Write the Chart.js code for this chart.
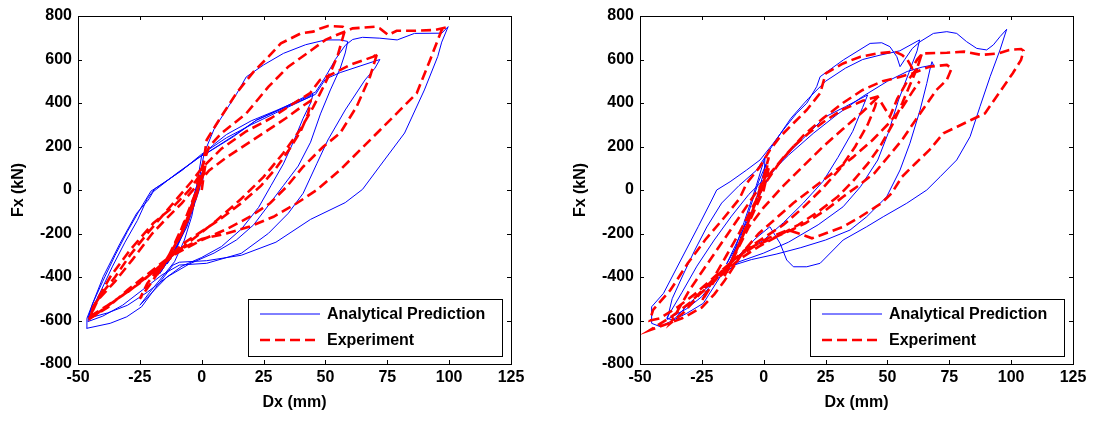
<!DOCTYPE html>
<html>
<head>
<meta charset="utf-8">
<script src="https://cdn.jsdelivr.net/npm/chart.js@4.4.1/dist/chart.umd.min.js"></script>
<style>
html, body { margin: 0; padding: 0; background: #fff; overflow: hidden; width: 1094px; height: 421px; }
canvas { position: absolute; top: 0; }
#leftPanel { left: 0; }
#rightPanel { left: 562px; }
</style>
</head>
<body>
<canvas id="leftPanel" width="550" height="421"></canvas>
<canvas id="rightPanel" width="532" height="421"></canvas>
<script>
// axis ticks
const dxTicks = [-50, -25, 0, 25, 50, 75, 100, 125];
const fxTicks = [-800, -600, -400, -200, 0, 200, 400, 600, 800];
const seriesNames = ["Analytical Prediction", "Experiment"];

// left panel, [Dx mm, Fx kN]
const leftAnalytical = [
  [0,0],[1,100],[-1,30],[-5,-120],[-10,-260],[-15,-350],[-17,-385],[-12,-300],[-6,-170],[-1,0],[0.8,100],[-2,20],[-8,-210],[-14,-340],
  [-11,-290],[-6,-160],[-2,20],[0,160],[5,210],[10,255],[20,318],[30,365],[40,415],[45,440],
  [44,400],[41,330],[37,220],[33,120],[28,20],[23,-80],[16,-180],[8,-260],[0,-310],[-8,-350],[-14,-400],[-20,-470],[-25,-530],
  [-21,-470],[-16,-400],[-11,-330],[-7,-230],[-4,-120],[-1,50],[1,170],[5,280],[10,370],[14,440],[18,520],[25,575],[33,628],[42,668],[50,690],[56,690],[59,683],
  [58,630],[56,560],[52,460],[48,350],[44,220],[39,110],[33,20],[27,-70],[21,-160],[14,-230],[5,-290],[-5,-340],[-14,-400],[-22,-470],[-30,-530],[-38,-565],[-46,-590],
  [-44,-520],[-40,-420],[-35,-300],[-30,-190],[-25,-90],[-20.5,-5],[-15,35],[-8,90],[0,165],[10,240],[20,300],[30,355],[40,408],[46,440],[50,510],[56,540],[64,570],[72,600],
  [70,560],[66,506],[58,368],[51,230],[46.6,123],[41,-15],[35,-107],[27,-199],[16,-291],[2,-337],[-9,-345],[-16,-390],[-24,-460],[-32,-530],[-40,-580],[-46,-605],
  [-45,-560],[-41,-470],[-36,-350],[-31,-240],[-26,-140],[-22,-40],[-19,5],[-10,75],[-1,150],[2,170],[13,250],[22,320],[32,372],[41,425],[46,450],[50,520],[54,600],[58,665],[61,692],[65,702],[72,698],[79,690],[86,720],[97,721],[99.6,751],
  [97,680],[95.4,614],[90,460],[82,262],[72,110],[65,3],[58,-58],[44,-135],[30,-240],[16,-300],[2,-325],[-9,-332],[-11.6,-345],[-18,-440],[-24.3,-537],[-30.3,-583],[-37,-613],[-46.5,-636],
  [-46.4,-590],[-44,-520],[-39.8,-398],[-33,-245],[-26.3,-107],[-21.6,-46],[-19.6,-8],[-10.1,77],[-0.7,153],[2,169],[12.8,245],[22.2,322],[30,362],[38,400],[44,430]
];
const leftExperiment = [
  [0,0],[1,80],[-1,20],[-6,-150],[-12,-280],[-16,-360],[-10,-230],[-2,0],[1.5,110],[0,60],[-8,-200],[-18,-390],[-14,-320],[-5,-100],[0,50],
  [3,90],[10,150],[18,210],[26,270],[34,330],[40,380],[44,410],
  [43,350],[40,270],[35,180],[30,100],[24,20],[16,-60],[8,-130],[0,-190],[-8,-250],[-16,-340],[-22,-430],[-25,-500],
  [-20,-420],[-14,-320],[-8,-200],[-3,-60],[0,60],[1,150],[2,230],[7,322],[14,445],[21,544],[27,613],[32,674],[40,720],[45,728],[48,743],[51,754],[57,751],[58,740],
  [57,700],[55,620],[52,540],[49,470],[45,380],[40,280],[33,170],[25,60],[16,-40],[6,-140],[-4,-230],[-14,-320],[-24,-420],[-34,-500],[-45,-590],
  [-44,-540],[-40,-470],[-35,-400],[-29,-300],[-22,-200],[-16,-120],[-10,-40],[-4,40],[0,100],[8,190],[18,270],[28,330],[36,390],[43.8,445],[47.8,506],[53.2,536],[59.9,575],[69.4,613],[71.4,628],
  [70.7,620],[68,521],[62.6,383],[55.9,261],[49.1,199],[41,107],[34.3,15],[27.6,-61],[19.5,-123],[10,-180],[0,-230],[-10,-290],[-20,-380],[-30,-470],[-38,-530],[-45,-580],
  [-42,-506],[-35,-420],[-28,-320],[-20,-200],[-15,-140],[-8,-60],[-2,20],[0,100],[3,200],[8,261],[18,352],[27,475],[35,567],[44,640],[50,690],[55,715],[61,743],[70,751],[72,743],[75.4,713],[78.8,732],[85.5,732],[94.5,736],[99,748],
  [97,736],[92.3,598],[86.9,445],[80.2,368],[72.1,276],[64,184],[55.9,92],[46.5,0],[38.4,-61],[29,-123],[19.5,-168],[10,-200],[0,-225],[-10,-280],[-20,-370],[-30,-460],[-38,-540],[-45,-590],
  [-44,-540],[-37,-400],[-29,-276],[-19.6,-153],[-11.5,-77],[-5,0],[0,80]
];

// right panel
const rightAnalytical = [
  [0,0],[0.5,150],[-3,20],[-8,-150],[-13,-320],[-16,-380],[-10,-250],[-4,-80],[1,120],[-2,40],[-10,-240],[-15,-340],
  [-10,-220],[-4,-80],[2,60],[10,170],[18,260],[25,337],[33,383],[42,437],
  [40,380],[36,270],[30,150],[24,40],[16,-60],[8,-150],[0,-230],[-10,-300],[-18,-390],[-25,-490],[-31,-545],[-39,-595],
  [-37,-500],[-33,-400],[-28,-280],[-23,-170],[-17,-60],[-10,20],[-3,90],[1,160],[5,230],[11,330],[18,420],[25,500],[33,560],[40,600],[47,620],[55,640],[63,690],
  [62,640],[60,580],[58.7,540],[54.5,414],[50.3,261],[46.1,138],[39.1,15],[32.1,-77],[22,-160],[10,-240],[0,-290],[-10,-330],[-20,-420],[-30,-520],[-36.5,-598],[-41.9,-628],[-45.3,-613],
  [-45.3,-537],[-40.5,-475],[-33.5,-322],[-26.5,-169],[-21,-46],[-19,0],[-13.6,38],[-6.9,92],[-1.5,138],[3.9,215],[7.9,276],[13.3,353],[17.4,399],[21.4,475],[22.8,521],[32.2,598],[43,674],[47.7,677],[51,659],[53.8,613],[55.1,567],
  [57,600],[60,650],[63.2,682],[68.6,720],[74,728],[78,720],[82,682],[86.1,651],[90.1,644],[92.8,667],[95.5,705],[98.2,739],
  [95.5,644],[91.5,521],[87.4,383],[83.4,245],[78,138],[71.3,61],[65.9,0],[57.8,-61],[48.3,-123],[41.6,-169],[32.1,-230],[22.8,-337],[17.4,-353],[12,-353],[9.3,-322],[6.6,-245],[2.5,-169],[-3,-220],[-10,-300],[-16,-370],[-24.4,-521],[-31.1,-567],[-36.5,-598],[-39.2,-590],
  [-33,-470],[-27,-350],[-20,-230],[-13,-120],[-6,-20],[2,70],[10,160],[20,260],[30,350],[40,430],[50,500],[58,545],[64,565],[68.6,575],[68,590],[67.5,570],
  [65.9,490],[63.2,368],[59.1,215],[55.1,92],[49.7,-31],[41.6,-123],[34.9,-184],[25,-230],[15,-265],[5,-295],[-5,-320],[-12,-345]
];
const rightExperiment = [
  [0,0],[1,80],[2,150],[0,60],[-4,-80],[-10,-250],[-14,-350],[-16,-400],[-12,-300],[-6,-150],[0,0],[2,100],[-2,-20],[-8,-200],[-13,-330],[-15,-380],[-10,-260],
  [-6,-170],[0,-80],[8,20],[16,110],[24,200],[32,280],[40,360],[46,425],
  [45,383],[42,300],[37,200],[31,100],[24,10],[16,-80],[8,-160],[0,-220],[-8,-280],[-14,-340],[-20,-420],[-25,-510],
  [-20,-400],[-15,-300],[-10,-200],[-5,-90],[0,20],[6,120],[12,200],[18,260],[25,320],[32,370],[40,410],[46,430],[51,337],[54,420],[58,500],[62,560],[64,630],
  [62,560],[59,480],[56,400],[52,300],[47,200],[42,120],[36,40],[30,-30],[22,-100],[14,-160],[6,-210],[-2,-260],[-10,-320],[-18,-400],[-26,-480],[-32,-560],[-37.7,-613],
  [-34,-540],[-30,-460],[-24,-360],[-18,-260],[-12,-160],[-6,-60],[0,40],[8,150],[16,250],[24,330],[32,400],[40,460],[48,500],[55,520],[60,536],[67,567],[74,575],[76,560],
  [74,506],[69.8,460],[67,414],[61.4,322],[55.9,230],[50.3,153],[44.7,77],[37.7,15],[32.1,-31],[25.1,-92],[16.8,-153],[11.2,-184],[4,-220],[-4,-260],[-12,-320],[-20,-400],[-28,-480],[-35,-540],[-42,-590],[-46,-600],
  [-44.7,-551],[-37.7,-460],[-30.7,-337],[-23.7,-230],[-16.8,-138],[-9.8,-40],[-6.9,31],[-1.5,107],[2.5,184],[6.6,245],[12,307],[17.4,368],[22.8,445],[25.1,536],[32.1,582],[39.1,613],[46.1,628],[53,636],[56,620],[58,600],[60,560],[62,600],[64.2,628],[74,631],[81,636],[88,621],[95,628],[99.2,644],[104,648],[105,640],[104,598],
  [100.6,536],[95,444],[89.4,352],[83.8,322],[78.2,291],[72.6,261],[67,184],[61.4,123],[55.9,61],[51.7,-15],[47.5,-61],[39.1,-123],[32.1,-169],[25.1,-199],[19.5,-222],[13.9,-199],[9.8,-184],[2,-220],[-6,-270],[-14,-340],[-22,-430],[-30,-520],[-37,-580],[-46,-644],
  [-40,-620],[-33,-590],[-25,-540],[-20,-480],[-16,-420],[-12,-350],[-8,-280],[-2,-200],[5,-130],[12,-60],[20,10],[28,80],[36,150],[44,230],[50,300],[56,380],[60,450],[63,500]
];

const boldFont = { family: "'Liberation Sans', Arial, sans-serif", weight: "bold", size: 16 };

// box outline, inward ticks on all four sides, and the legend box
const boxTicksLegend = {
  id: "boxTicksLegend",
  afterDraw(chart) {
    const { ctx, chartArea: a, scales } = chart;
    ctx.save();
    ctx.strokeStyle = "#000";
    ctx.lineWidth = 1;
    ctx.strokeRect(a.left + 0.5, a.top + 0.5, a.right - a.left, a.bottom - a.top);
    ctx.beginPath();
    dxTicks.forEach(v => {
      const px = Math.round(scales.x.getPixelForValue(v)) + 0.5;
      ctx.moveTo(px, a.bottom); ctx.lineTo(px, a.bottom - 4);
      ctx.moveTo(px, a.top); ctx.lineTo(px, a.top + 4);
    });
    fxTicks.forEach(v => {
      const py = Math.round(scales.y.getPixelForValue(v)) + 0.5;
      ctx.moveTo(a.left, py); ctx.lineTo(a.left + 4, py);
      ctx.moveTo(a.right, py); ctx.lineTo(a.right - 4, py);
    });
    ctx.stroke();

    // legend
    const lx = a.left + 170, ly = a.top + 283, lw = 254, lh = 57;
    ctx.fillStyle = "#fff";
    ctx.fillRect(lx, ly, lw, lh);
    ctx.strokeRect(lx + 0.5, ly + 0.5, lw, lh);
    ctx.font = "bold 16px 'Liberation Sans', Arial, sans-serif";
    ctx.textBaseline = "middle";
    chart.data.datasets.forEach((ds, i) => {
      const yy = ly + 15 + i * 26;
      ctx.strokeStyle = ds.borderColor;
      ctx.lineWidth = ds.borderWidth;
      ctx.setLineDash(ds.borderDash || []);
      ctx.beginPath();
      ctx.moveTo(lx + 12, yy);
      ctx.lineTo(lx + 72, yy);
      ctx.stroke();
      ctx.setLineDash([]);
      ctx.fillStyle = "#000";
      ctx.fillText(ds.label, lx + 79, yy + 1);
    });
    ctx.restore();
  }
};

function buildPanel(canvasId, analytical, experiment, rightPad) {
  return new Chart(document.getElementById(canvasId), {
    type: "scatter",
    data: {
      datasets: [
        {
          label: seriesNames[0],
          data: analytical.map(([x, y]) => ({ x, y })),
          showLine: true,
          borderColor: "#0000FF",
          borderWidth: 1,
          pointRadius: 0,
          tension: 0,
          order: 2
        },
        {
          label: seriesNames[1],
          data: experiment.map(([x, y]) => ({ x, y })),
          showLine: true,
          borderColor: "#FF0000",
          borderWidth: 2.6,
          borderDash: [10, 5],
          pointRadius: 0,
          tension: 0,
          order: 1
        }
      ]
    },
    options: {
      responsive: false,
      animation: false,
      layout: { padding: { left: 0, right: rightPad, top: 16, bottom: 0 } },
      plugins: { legend: { display: false }, tooltip: { enabled: false } },
      scales: {
        x: {
          type: "linear",
          min: dxTicks[0],
          max: dxTicks[dxTicks.length - 1],
          afterBuildTicks: s => { s.ticks = dxTicks.map(v => ({ value: v })); },
          afterFit: s => { s.height = 57; },
          grid: { display: false, drawTicks: false },
          border: { display: false },
          ticks: { color: "#000", font: boldFont, padding: 4, maxRotation: 0, autoSkip: false },
          title: { display: true, text: "Dx (mm)", color: "#000", font: boldFont, padding: { top: 0, bottom: 9 } }
        },
        y: {
          type: "linear",
          min: fxTicks[0],
          max: fxTicks[fxTicks.length - 1],
          afterBuildTicks: s => { s.ticks = fxTicks.map(v => ({ value: v })); },
          afterFit: s => { s.width = 78; },
          grid: { display: false, drawTicks: false },
          border: { display: false },
          ticks: { color: "#000", font: boldFont, padding: 6, autoSkip: false },
          title: { display: true, text: "Fx (kN)", color: "#000", font: boldFont, padding: { top: 9, bottom: 0 } }
        }
      }
    },
    plugins: [boxTicksLegend]
  });
}

buildPanel("leftPanel", leftAnalytical, leftExperiment, 39);
buildPanel("rightPanel", rightAnalytical, rightExperiment, 21);
</script>
</body>
</html>
